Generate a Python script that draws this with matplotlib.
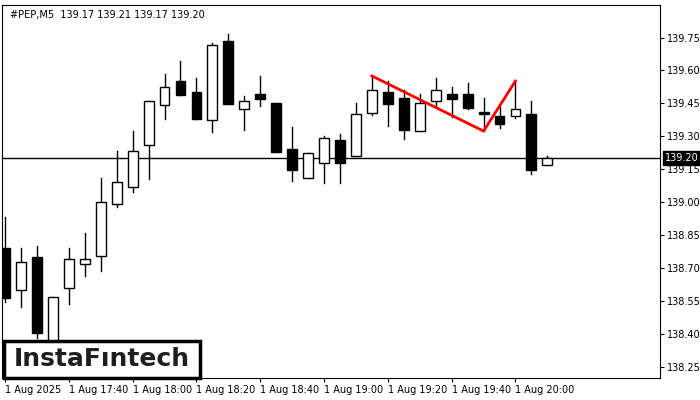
import numpy as np
import matplotlib
matplotlib.use("Agg")
import matplotlib.pyplot as plt
from matplotlib.patches import Rectangle

opens = [138.792, 138.601, 138.751, 138.30, 138.610, 138.719, 138.755, 138.992, 139.069, 139.261,
         139.443, 139.552, 139.502, 139.374, 139.734, 139.424, 139.493, 139.452, 139.243, 139.110,
         139.179, 139.284, 139.211, 139.406, 139.502, 139.474, 139.324, 139.461, 139.493, 139.493,
         139.411, 139.393, 139.393, 139.402, 139.17]
highs = [138.933, 138.792, 138.801, 138.569, 138.792, 138.860, 139.110, 139.233, 139.324, 139.461,
         139.584, 139.643, 139.566, 139.725, 139.766, 139.484, 139.575, 139.452, 139.343, 139.224,
         139.302, 139.311, 139.452, 139.575, 139.552, 139.511, 139.493, 139.566, 139.525, 139.543,
         139.474, 139.434, 139.552, 139.461, 139.21]
lows = [138.546, 138.523, 138.38, 138.25, 138.537, 138.664, 138.687, 138.978, 139.047, 139.106,
        139.379, 139.488, 139.379, 139.320, 139.447, 139.329, 139.438, 139.229, 139.097, 139.110,
        139.088, 139.088, 139.211, 139.397, 139.347, 139.288, 139.324, 139.438, 139.388, 139.424,
        139.324, 139.338, 139.384, 139.129, 139.17]
closes = [138.564, 138.728, 138.405, 138.569, 138.742, 138.742, 139.0, 139.092, 139.233, 139.461,
          139.525, 139.488, 139.379, 139.716, 139.447, 139.461, 139.470, 139.229, 139.147, 139.224,
          139.293, 139.179, 139.402, 139.511, 139.447, 139.329, 139.452, 139.511, 139.470, 139.429,
          139.402, 139.356, 139.424, 139.147, 139.20]

pattern_idx = [23, 30, 32]
pattern_val = [139.575, 139.324, 139.552]

xtick_idx = [0, 4, 8, 12, 16, 20, 24, 28, 32]
xtick_lbl = ["1 Aug 2025", "1 Aug 17:40", "1 Aug 18:00", "1 Aug 18:20", "1 Aug 18:40",
             "1 Aug 19:00", "1 Aug 19:20", "1 Aug 19:40", "1 Aug 20:00"]
yticks = [138.25, 138.40, 138.55, 138.70, 138.85, 139.0, 139.15, 139.30, 139.45, 139.60, 139.75]
last_price = 139.20

plt.rcParams['font.family'] = ['DejaVu Sans']
fig = plt.figure(figsize=(7, 4), dpi=100)
ax = fig.add_axes([2/700, 22/400, 658/700, 373/400])

w = 0.62
for i in range(len(opens)):
    o, h, l, c = opens[i], highs[i], lows[i], closes[i]
    ax.plot([i, i], [l, h], color='black', lw=1, zorder=2)
    lo, hi = min(o, c), max(o, c)
    face = 'white' if c >= o else 'black'
    ax.add_patch(Rectangle((i - w/2, lo), w, max(hi - lo, 0.004), facecolor=face,
                           edgecolor='black', lw=1, zorder=3))

ax.axhline(last_price, color='black', lw=1, zorder=1)
ax.plot(pattern_idx, pattern_val, color='red', lw=2, zorder=4)

ax.set_xlim(-0.19, 41.06)
ax.set_ylim(138.2, 139.898)
ax.set_xticks(xtick_idx)
ax.set_xticklabels(xtick_lbl, fontsize=7)
ax.yaxis.tick_right()
ax.set_yticks(yticks)
ax.set_yticklabels([f"{v:.2f}" for v in yticks], fontsize=7)
ax.tick_params(length=3, pad=2)
for lab in ax.get_xticklabels():
    lab.set_horizontalalignment('left')

ax.text(0.012, 0.987, "#PEP,M5  139.17 139.21 139.17 139.20", transform=ax.transAxes,
        fontsize=7, va='top', ha='left')

ax.text(1.008, last_price, "139.20", transform=ax.get_yaxis_transform(), fontsize=7,
        color='white', va='center', ha='left',
        bbox=dict(boxstyle='square,pad=0.2', facecolor='black', edgecolor='black'))

fig.patches.append(Rectangle((4/700, 22/400), 196/700, 37/400, transform=fig.transFigure,
                             facecolor='white', edgecolor='black', lw=2.5, zorder=10))
fig.text(102/700, 40.5/400, "InstaFıntech", fontsize=18, fontweight='bold', va='center',
         ha='center', color='#1e1e1e', zorder=11)

fig.savefig("out.png", dpi=100)
